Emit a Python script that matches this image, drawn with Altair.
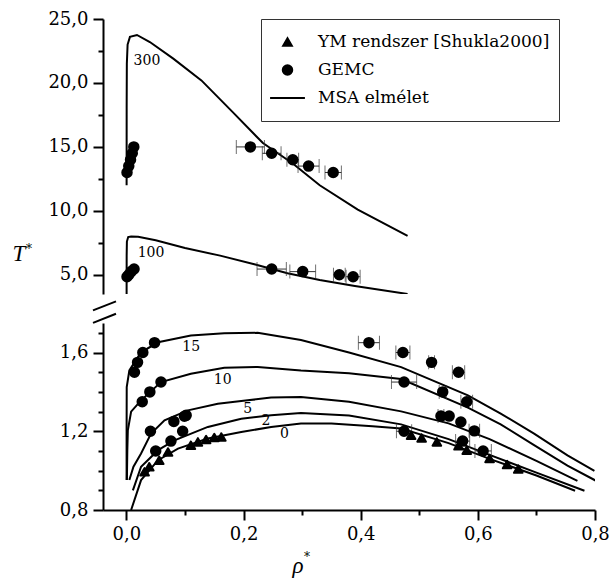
import altair as alt
import pandas as pd

SERIES = ["YM rendszer [Shukla2000]", "GEMC", "MSA elmélet"]
SERIF = "DejaVu Serif"
ITALIC = "Liberation Serif"

# ---------------- MSA theory curves ----------------
# upper panel: mu*^2 = 300 and 100
msa_300_rho = [0.0003, 0.0004, 0.0007, 0.002, 0.006, 0.018, 0.04, 0.08, 0.128, 0.184, 0.233, 0.284, 0.33, 0.395, 0.48]
msa_300_T = [12.0, 18.0, 21.5, 23.0, 23.6, 23.75, 23.2, 21.9, 20.2, 17.6, 15.3, 13.7, 12.0, 10.1, 8.05]
msa_100_rho = [0.0003, 0.0004, 0.0008, 0.003, 0.008, 0.02, 0.05, 0.1, 0.16, 0.22, 0.275, 0.33, 0.39, 0.48]
msa_100_T = [3.5, 6.5, 7.6, 7.95, 8.0, 7.97, 7.7, 7.1, 6.5, 5.8, 5.12, 4.6, 4.13, 3.5]

# lower panel: mu*^2 = 15, 10, 5, 2, 0
msa_15_rho = [0.0003, 0.0003, 0.0005, 0.005, 0.025, 0.054, 0.11, 0.167, 0.224, 0.298, 0.38, 0.469, 0.583, 0.639, 0.696, 0.753, 0.799]
msa_15_T = [0.952, 1.2, 1.424, 1.509, 1.601, 1.652, 1.686, 1.698, 1.70, 1.664, 1.60, 1.526, 1.382, 1.29, 1.188, 1.078, 0.999]
msa_10_rho = [0.0008, 0.0015, 0.0024, 0.008, 0.025, 0.059, 0.11, 0.167, 0.224, 0.298, 0.38, 0.469, 0.583, 0.639, 0.696, 0.753, 0.802]
msa_10_T = [0.952, 1.10, 1.205, 1.30, 1.357, 1.45, 1.492, 1.523, 1.527, 1.509, 1.495, 1.465, 1.32, 1.235, 1.13, 1.025, 0.948]
msa_5_rho = [0.005, 0.012, 0.025, 0.042, 0.065, 0.105, 0.156, 0.207, 0.247, 0.298, 0.38, 0.469, 0.55, 0.62, 0.70, 0.77]
msa_5_T = [0.952, 1.02, 1.087, 1.188, 1.256, 1.306, 1.34, 1.357, 1.371, 1.374, 1.35, 1.301, 1.24, 1.16, 1.05, 0.948]
msa_2_rho = [0.011, 0.025, 0.054, 0.082, 0.139, 0.196, 0.247, 0.298, 0.38, 0.469, 0.55, 0.62, 0.70, 0.782]
msa_2_T = [0.90, 1.02, 1.104, 1.154, 1.222, 1.264, 1.281, 1.293, 1.28, 1.235, 1.16, 1.08, 0.99, 0.898]
msa_0_rho = [0.008, 0.025, 0.054, 0.088, 0.139, 0.196, 0.247, 0.298, 0.35, 0.42, 0.469, 0.55, 0.62, 0.70, 0.766]
msa_0_T = [0.80, 0.952, 1.053, 1.112, 1.163, 1.196, 1.222, 1.239, 1.24, 1.225, 1.214, 1.14, 1.06, 0.975, 0.898]

# ---------------- GEMC simulation ----------------
gemc_top_rho = [0.001, 0.004, 0.007, 0.010, 0.0126, 0.2116, 0.248, 0.284, 0.311, 0.353,
                0.001, 0.004, 0.008, 0.013, 0.248, 0.301, 0.3635, 0.387]
gemc_top_T = [13.0, 13.5, 14.0, 14.5, 15.0, 15.0, 14.5, 14.0, 13.5, 13.0,
              4.85, 5.0, 5.25, 5.45, 5.45, 5.25, 5.0, 4.85]
gemc_top_err = [0, 0, 0, 0, 0, 0.024, 0.016, 0.010, 0.018, 0.014,
                0, 0, 0, 0, 0.025, 0.022, 0.010, 0.012]

gemc_bot_rho = [0.0137, 0.019, 0.028, 0.048, 0.414, 0.472, 0.521, 0.567,
                0.027, 0.040, 0.059, 0.474, 0.540, 0.581,
                0.041, 0.081, 0.099, 0.102, 0.537, 0.551, 0.571, 0.594,
                0.050, 0.076, 0.096, 0.474, 0.574, 0.609]
gemc_bot_T = [1.50, 1.55, 1.60, 1.65, 1.65, 1.60, 1.55, 1.50,
              1.35, 1.40, 1.45, 1.45, 1.40, 1.35,
              1.20, 1.25, 1.276, 1.281, 1.277, 1.277, 1.247, 1.202,
              1.10, 1.15, 1.20, 1.20, 1.15, 1.10]
gemc_bot_err = [0, 0, 0, 0, 0.018, 0.012, 0.005, 0.0105,
                0, 0, 0, 0.0215, 0.006, 0.010,
                0, 0, 0, 0, 0.005, 0, 0, 0.009,
                0, 0, 0, 0.013, 0.012, 0.014]

# ---------------- Yukawa-mixture (YM) data ----------------
ym_rho = [0.031, 0.039, 0.056, 0.071, 0.110, 0.122, 0.136, 0.150, 0.162,
          0.486, 0.504, 0.530, 0.567, 0.581, 0.620, 0.650, 0.669]
ym_T = [0.994, 1.02, 1.053, 1.095, 1.129, 1.146, 1.158, 1.168, 1.171,
        1.18, 1.166, 1.146, 1.126, 1.104, 1.062, 1.031, 1.008]

# curve labels (mu*^2) placed next to each curve
top_label_text = ["300", "100"]
top_label_rho = [0.035, 0.042]
top_label_T = [21.7, 6.74]
bot_label_text = ["15", "10", "5", "2", "0"]
bot_label_rho = [0.1107, 0.1645, 0.207, 0.238, 0.27]
bot_label_T = [1.630, 1.462, 1.315, 1.25, 1.185]


def curves_frame(curves):
    rows = []
    for name, rhos, temps in curves:
        for i, (r, t) in enumerate(zip(rhos, temps)):
            rows.append({"curve": name, "rho": r, "T": t, "idx": i})
    return pd.DataFrame(rows)


top_curves = curves_frame([("300", msa_300_rho, msa_300_T), ("100", msa_100_rho, msa_100_T)])
bot_curves = curves_frame([
    ("15", msa_15_rho, msa_15_T), ("10", msa_10_rho, msa_10_T), ("5", msa_5_rho, msa_5_T),
    ("2", msa_2_rho, msa_2_T), ("0", msa_0_rho, msa_0_T),
])

top_points = pd.DataFrame({"rho": gemc_top_rho, "T": gemc_top_T, "err": gemc_top_err, "series": "GEMC"})
bot_points = pd.concat([
    pd.DataFrame({"rho": ym_rho, "T": ym_T, "err": 0.0, "series": SERIES[0]}),
    pd.DataFrame({"rho": gemc_bot_rho, "T": gemc_bot_T, "err": gemc_bot_err, "series": "GEMC"}),
], ignore_index=True)

top_labels = pd.DataFrame({"text": top_label_text, "rho": top_label_rho, "T": top_label_T})
bot_labels = pd.DataFrame({"text": bot_label_text, "rho": bot_label_rho, "T": bot_label_T})

LABEL_EXPR = "replace(format(datum.value, '.1f'), '.', ',')"

x_scale = alt.Scale(domain=[-0.04, 0.8], nice=False, zero=False)
# the theory entry is a plain horizontal stroke (custom symbol path)
shape_scale = alt.Scale(domain=SERIES, range=["triangle-up", "circle", "M-3.4,0L3.4,0"])
size_scale = alt.Scale(domain=SERIES, range=[75, 105, 100])
stroke_scale = alt.Scale(domain=SERIES, range=["black", "black", "black"])

legend = alt.Legend(
    title=None, orient="none", legendX=158, legendY=0,
    strokeColor="#333", fillColor="white", padding=9, rowPadding=0, clipHeight=28,
    labelFont=SERIF, labelFontSize=17, labelColor="black", labelOffset=22, labelLimit=0,
    symbolOffset=9, symbolStrokeWidth=2, symbolFillColor="black",
)


def major_axis(values, orient, labels=True):
    return alt.Axis(values=values, orient=orient, title=None, grid=False,
                    labelExpr=LABEL_EXPR, labels=labels, tickSize=10, labelFlush=False)


def minor_axis(values, orient):
    return alt.Axis(values=values, orient=orient, title=None, grid=False,
                    labels=False, domain=False, tickSize=5)


def panel(curves, points, labels, y_scale, y_major, y_minor, show_x, with_legend):
    x_major = major_axis([0.0, 0.2, 0.4, 0.6, 0.8], "bottom") if show_x else None
    x_minor = minor_axis([0.1, 0.3, 0.5, 0.7], "bottom") if show_x else None

    lines = alt.Chart(curves).mark_line(color="black", strokeWidth=2, clip=True).encode(
        x=alt.X("rho:Q", scale=x_scale, axis=x_major),
        y=alt.Y("T:Q", scale=y_scale, axis=major_axis(y_major, "left")),
        detail="curve:N",
        order="idx:Q",
    )

    bars_src = alt.Chart(points).transform_filter("datum.err > 0").transform_calculate(
        lo="datum.rho - datum.err", hi="datum.rho + datum.err"
    )
    bars = bars_src.mark_rule(color="#333", strokeWidth=1).encode(
        x=alt.X("lo:Q", scale=x_scale, axis=None),
        x2="hi:Q",
        y=alt.Y("T:Q", scale=y_scale, axis=None),
    )
    caps = bars_src.transform_fold(["lo", "hi"], as_=["end", "xc"]).mark_tick(
        orient="vertical", size=14, thickness=1, color="#333"
    ).encode(
        x=alt.X("xc:Q", scale=x_scale, axis=None),
        y=alt.Y("T:Q", scale=y_scale, axis=None),
    )

    leg = legend if with_legend else None
    pts = alt.Chart(points).mark_point(
        filled=True, fill="black", strokeWidth=2, strokeJoin="round", opacity=1
    ).encode(
        x=alt.X("rho:Q", scale=x_scale, axis=x_minor),
        y=alt.Y("T:Q", scale=y_scale, axis=minor_axis(y_minor, "left")),
        shape=alt.Shape("series:N", scale=shape_scale, legend=leg),
        size=alt.Size("series:N", scale=size_scale, legend=leg),
        stroke=alt.Stroke("series:N", scale=stroke_scale, legend=leg),
    )

    text = alt.Chart(labels).mark_text(font=SERIF, fontSize=14, color="black").encode(
        x=alt.X("rho:Q", scale=x_scale, axis=None),
        y=alt.Y("T:Q", scale=y_scale, axis=None),
        text="text:N",
    )
    return lines, bars, caps, pts, text


t_lines, t_bars, t_caps, t_pts, t_text = panel(
    top_curves, top_points, top_labels, alt.Scale(domain=[3.5, 25], nice=False, zero=False),
    [5, 10, 15, 20, 25], [7.5, 12.5, 17.5, 22.5], False, True)

one_row = pd.DataFrame({"k": [0]})
t_title = alt.Chart(one_row).mark_text(
    font=ITALIC, fontSize=23, fontStyle="italic", baseline="alphabetic"
).encode(x=alt.value(-84), y=alt.value(242), text=alt.value("T"))
t_star = alt.Chart(one_row).mark_text(font=SERIF, fontSize=12, align="left").encode(
    x=alt.value(-77), y=alt.value(230), text=alt.value("*"))

top = alt.layer(t_lines, t_bars, t_caps, t_pts, t_text, t_title, t_star).resolve_axis(
    x="independent", y="independent").properties(width=492, height=275)

b_lines, b_bars, b_caps, b_pts, b_text = panel(
    bot_curves, bot_points, bot_labels, alt.Scale(domain=[0.8, 1.75], nice=False, zero=False),
    [0.8, 1.2, 1.6], [0.9, 1.0, 1.1, 1.3, 1.4, 1.5, 1.7], True, False)

b_title = alt.Chart(one_row).mark_text(
    font=ITALIC, fontSize=23, fontStyle="italic", baseline="alphabetic"
).encode(x=alt.value(195), y=alt.value(250), text=alt.value("ρ"))
b_star = alt.Chart(one_row).mark_text(font=SERIF, fontSize=12, align="left").encode(
    x=alt.value(201), y=alt.value(234), text=alt.value("*"))

# axis-break marks drawn across the left axis between the panels
brk = alt.Chart(one_row).mark_rule(color="black", strokeWidth=2).encode(
    x=alt.value(-10), x2=alt.value(13), y=alt.value(-0.1), y2=alt.value(-9.3))
brk2 = alt.Chart(one_row).mark_rule(color="black", strokeWidth=2).encode(
    x=alt.value(-10), x2=alt.value(13), y=alt.value(-12.6), y2=alt.value(-21.6))

bottom = alt.layer(b_lines, b_bars, b_caps, b_pts, b_text, b_title, b_star, brk, brk2).resolve_axis(
    x="independent", y="independent").properties(width=492, height=187)

chart = alt.vconcat(top, bottom, spacing=6).resolve_scale(
    shape="independent", size="independent", stroke="independent"
).resolve_legend(shape="independent", size="independent", stroke="independent").properties(
    padding={"left": 12, "top": 10, "right": 0, "bottom": 0}
).configure_view(stroke=None).configure_axis(
    labelFont=SERIF, labelFontSize=18, labelColor="black", labelPadding=5,
    domainColor="black", domainWidth=2, tickColor="black", tickWidth=2,
)

chart.save("out.html", embed_options={"renderer": "svg", "actions": False})
